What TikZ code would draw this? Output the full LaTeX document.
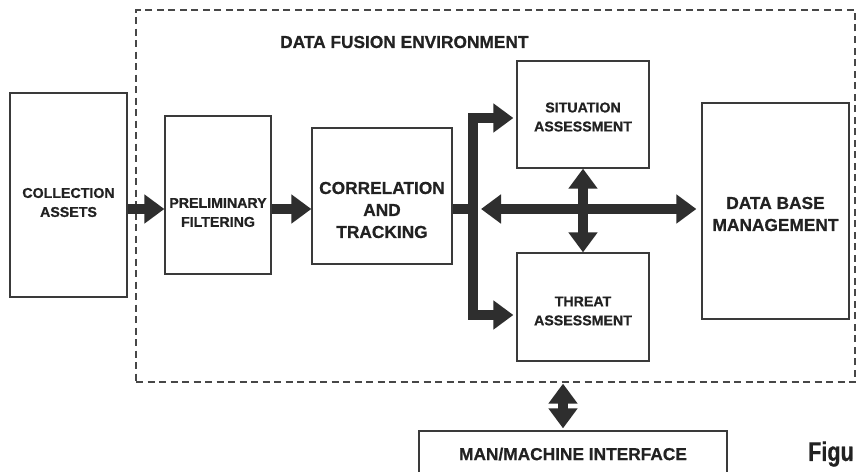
\documentclass[tikz,border=0pt]{standalone}
\usepackage{fontspec}
\setmainfont{Liberation Sans}[BoldFeatures={FakeBold=0.7}]
\usetikzlibrary{arrows.meta}
\definecolor{ink}{HTML}{222222}
\definecolor{boxc}{HTML}{3A3A3A}
\definecolor{arrowc}{HTML}{2E2E2E}
\definecolor{dashc}{HTML}{474747}
\tikzset{
  box/.style={draw=boxc, line width=1.3pt, inner sep=0pt},
  envbox/.style={draw=dashc, line width=1.3pt, dash pattern=on 7pt off 4.5pt, inner sep=0pt},
  small/.style={font=\bfseries\fontsize{14.2}{19}\selectfont, text=ink, align=center, inner sep=0pt},
  large/.style={font=\bfseries\fontsize{17.3}{22}\selectfont, text=ink, align=center, inner sep=0pt},
  blk/.style={draw=arrowc, line width=9.5pt, line join=miter, >={Triangle[length=20pt,width=28pt]}},
}
\begin{document}
\begin{tikzpicture}[x=1pt,y=-1pt]
\clip (0,0) rectangle (856,471);
\fill[white] (0,0) rectangle (856,471);

% fusion environment boundary
\node[envbox, minimum width=719pt, minimum height=372pt] (env) at (495.5,196) {};
\node[large, anchor=west] (envtitle) at (280,42) {DATA FUSION ENVIRONMENT};

% blocks
\node[box, minimum width=117pt, minimum height=204pt] (ca)  at (68.5,195) {};
\node[box, minimum width=106pt, minimum height=158pt] (pf)  at (218,195) {};
\node[box, minimum width=140pt, minimum height=136pt] (ct)  at (382,196) {};
\node[box, minimum width=132pt, minimum height=107pt] (sa)  at (583,114.5) {};
\node[box, minimum width=132pt, minimum height=108pt] (ta)  at (583,307) {};
\node[box, minimum width=147pt, minimum height=216pt] (dbm) at (775.5,211) {};
\node[box, minimum width=308pt, minimum height=48pt]  (mmi) at (573,455) {};

% block captions
\node[small] (catext)  at (68.5,202.5) {COLLECTION\\ASSETS};
\node[small] (pftext)  at (218,212.5) {PRELIMINARY\\FILTERING};
\node[large] (cttext)  at (382,210) {CORRELATION\\AND\\TRACKING};
\node[small] (satext)  at (583,117) {SITUATION\\ASSESSMENT};
\node[small] (tatext)  at (583,311) {THREAT\\ASSESSMENT};
\node[large] (dbmtext) at (775.5,214) {DATA BASE\\MANAGEMENT};
\node[large] (mmitext) at (573,454) {MAN/MACHINE INTERFACE};
\node[font=\bfseries\fontsize{27}{30}\selectfont\addfontfeature{FakeStretch=0.8}, text=ink, anchor=west, inner sep=0pt] (fig) at (808,454) {Figu};

% flow arrows
\coordinate (row) at (0,209);
\coordinate (jt) at (473,118);
\coordinate (jb) at (473,315);
\coordinate (hl) at (481,209);
\coordinate (vx) at (563,0);

\draw[blk,->] (ca.east |- row) -- (pf.west |- row);
\draw[blk,->] (pf.east |- row) -- (ct.west |- row);
\draw[blk] (ct.east |- row) -- (jt |- row);
\draw[blk,<->,shorten <=3pt,shorten >=3pt] (sa.west |- jt) -- (jt) -- (jb) -- (ta.west |- jb);
\draw[blk,<->,shorten >=5pt] (hl) -- (dbm.west |- hl);
\draw[blk,<->] (sa.south) -- (ta.north);
\draw[blk,<->,shorten <=1pt,shorten >=2pt] (env.south -| vx) -- (mmi.north -| vx);
\end{tikzpicture}
\end{document}
